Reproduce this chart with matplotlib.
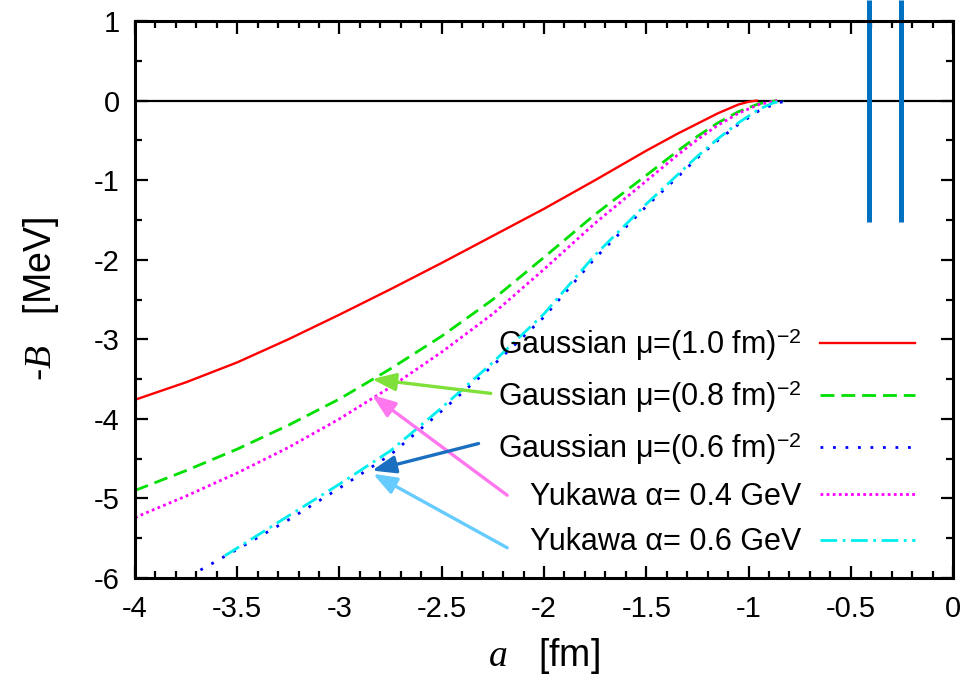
import matplotlib
matplotlib.use('Agg')
import matplotlib.pyplot as plt
from matplotlib.ticker import MultipleLocator, FormatStrFormatter

# --- data
gauss10_x = [-4.0, -3.75, -3.5, -3.25, -3.0, -2.75, -2.5, -2.25, -2.0, -1.75, -1.5, -1.35, -1.25, -1.15, -1.05, -1.0, -0.96]
gauss10_y = [-3.76, -3.54, -3.29, -3.0, -2.69, -2.37, -2.04, -1.70, -1.36, -1.0, -0.63, -0.42, -0.29, -0.16, -0.05, -0.015, 0.0]

gauss08_x = [-4.0, -3.75, -3.5, -3.25, -3.0, -2.75, -2.5, -2.25, -2.0, -1.75, -1.5, -1.35, -1.25, -1.15, -1.05, -0.95, -0.86]
gauss08_y = [-4.90, -4.65, -4.38, -4.08, -3.75, -3.37, -2.96, -2.50, -1.97, -1.43, -0.94, -0.64, -0.45, -0.28, -0.14, -0.04, 0.0]

gauss06_x = [-3.68, -3.5, -3.25, -3.0, -2.75, -2.5, -2.25, -2.0, -1.75, -1.5, -1.35, -1.25, -1.15, -1.05, -0.95, -0.87, -0.81]
gauss06_y = [-5.90, -5.64, -5.27, -4.87, -4.45, -3.90, -3.33, -2.72, -1.98, -1.33, -0.97, -0.72, -0.50, -0.30, -0.13, -0.04, 0.0]

yuk04_x = [-4.0, -3.75, -3.5, -3.25, -3.0, -2.75, -2.5, -2.25, -2.0, -1.75, -1.5, -1.35, -1.25, -1.15, -1.05, -0.95, -0.86]
yuk04_y = [-5.24, -4.97, -4.68, -4.36, -4.0, -3.60, -3.16, -2.68, -2.12, -1.54, -1.01, -0.69, -0.49, -0.31, -0.16, -0.05, 0.0]

yuk06_x = [-3.56, -3.25, -3.0, -2.75, -2.5, -2.25, -2.0, -1.75, -1.5, -1.35, -1.25, -1.15, -1.05, -0.95, -0.88, -0.83]
yuk06_y = [-5.72, -5.22, -4.82, -4.40, -3.86, -3.29, -2.68, -1.94, -1.30, -0.94, -0.70, -0.48, -0.28, -0.11, -0.03, 0.0]

labels = ['Gaussian μ=(1.0 fm)$^{-2}$', 'Gaussian μ=(0.8 fm)$^{-2}$', 'Gaussian μ=(0.6 fm)$^{-2}$',
          'Yukawa α= 0.4 GeV', 'Yukawa α= 0.6 GeV']

# arrows: (tail, tip)
arrow_tails = [(-2.26, -3.68), (-2.18, -4.96), (-2.32, -4.31), (-2.18, -5.62)]
arrow_tips = [(-2.841, -3.50), (-2.841, -3.70), (-2.841, -4.65), (-2.836, -4.69)]
arrow_colors = ['#7fe03a', '#ff77ee', '#1a6fc0', '#66ccff']

# two blue markers at the top right
mark_x = [-0.41, -0.254]
mark_y = [-1.52, 1.27]

# --- style
plt.rcParams.update({
    'font.family': 'Liberation Sans',
    'mathtext.fontset': 'custom',
    'mathtext.rm': 'Liberation Sans',
    'mathtext.it': 'Liberation Serif:italic',
    'axes.unicode_minus': False,
})

fig = plt.figure(figsize=(9.69, 6.85), dpi=100)
ax = fig.add_axes([0.1393, 0.1562, 0.8442, 0.8131])

ax.axhline(0, color='black', lw=1.6, zorder=1)

ax.plot(gauss10_x, gauss10_y, color='#ff0000', lw=1.7, label=labels[0])
ax.plot(gauss08_x, gauss08_y, color='#00e000', lw=2.0, ls=(0, (5, 2.5)), label=labels[1])
ax.plot(gauss06_x, gauss06_y, color='#0000ff', lw=2.0, ls=(0, (1, 3.5)), label=labels[2])
ax.plot(yuk04_x, yuk04_y, color='#ff00ff', lw=2.0, ls=(0, (1, 1.2)), label=labels[3])
ax.plot(yuk06_x, yuk06_y, color='#00eeee', lw=2.0, ls=(0, (6, 2, 1, 2)), label=labels[4])

for (tx, ty), (hx, hy), c in zip(arrow_tails, arrow_tips, arrow_colors):
    ax.annotate('', xy=(hx, hy), xytext=(tx, ty),
                arrowprops=dict(arrowstyle='-|>,head_length=0.75,head_width=0.28', color=c, lw=2.4,
                                mutation_scale=19, shrinkA=0, shrinkB=0))

for mx in mark_x:
    ax.plot([mx, mx], mark_y, color='#0070c0', lw=3.6, clip_on=False, solid_capstyle='butt')

ax.set_xlim(-4, 0)
ax.set_ylim(-6, 1)
ax.xaxis.set_major_locator(MultipleLocator(0.5))
ax.xaxis.set_minor_locator(MultipleLocator(0.1))
ax.yaxis.set_major_locator(MultipleLocator(1))
ax.yaxis.set_minor_locator(MultipleLocator(0.5))
ax.xaxis.set_major_formatter(FormatStrFormatter('%g'))
ax.yaxis.set_major_formatter(FormatStrFormatter('%g'))
ax.tick_params(which='both', direction='in', top=True, right=True, width=1.6)
ax.tick_params(which='major', length=9, labelsize=21)
ax.tick_params(which='minor', length=5)
ax.tick_params(axis='x', pad=12)
ax.tick_params(axis='y', pad=11)
for s in ax.spines.values():
    s.set_linewidth(2.2)

ax.set_xlabel('$a$   [fm]', fontsize=27)
ax.set_ylabel('-$B$   [MeV]', fontsize=27)
ax.xaxis.set_label_coords(0.5, -0.105)
ax.yaxis.set_label_coords(-0.09, 0.5)

ax.legend(loc='lower right', bbox_to_anchor=(0.968, 0.015), frameon=False, markerfirst=False,
          fontsize=22, handlelength=3.1, handletextpad=0.6, labelspacing=0.5, borderaxespad=0)

fig.savefig('out.png', dpi=100)
